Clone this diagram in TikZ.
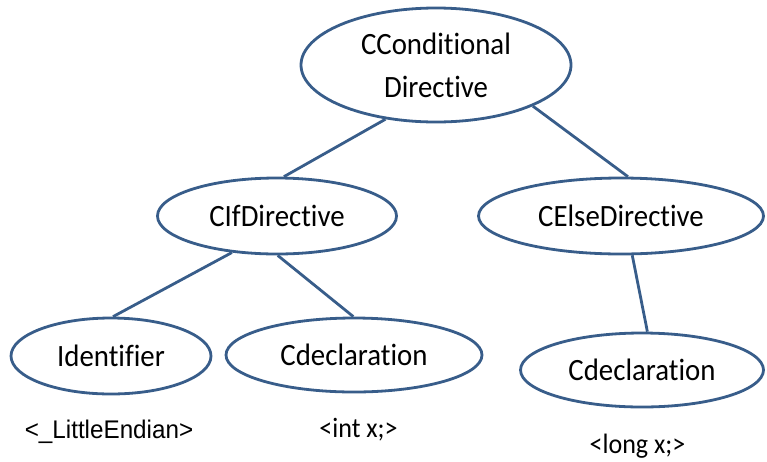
\documentclass[tikz,border=0pt]{standalone}
\usepackage{fontspec}
\setmainfont[Ligatures=NoCommon, FakeStretch=0.93]{Carlito}
\newfontfamily\labelsans[FakeStretch=0.95]{Liberation Sans}
\usetikzlibrary{shapes.geometric}
\definecolor{outline}{RGB}{56,93,138}

\tikzset{
  treenode/.style={ellipse, draw=outline, line width=2.8pt, fill=white,
    inner sep=0pt, align=center, text=black,
    font=\fontsize{31}{43}\selectfont},
  edge/.style={draw=outline, line width=2.8pt},
  leaflabel/.style={anchor=base, inner sep=0pt, text=black,
    font=\fontsize{28}{32}\selectfont}
}

\begin{document}
\begin{tikzpicture}[x=1pt, y=-1pt]
  \useasboundingbox (0,0) rectangle (767,461);

  % tree nodes
  \node[treenode, minimum width=270pt, minimum height=114pt] (cond) at (436,65)
    {CConditional\\Directive};
  \node[treenode, minimum width=239pt, minimum height=76pt] (ifdir) at (277,216)
    {CIfDirective};
  \node[treenode, minimum width=285pt, minimum height=76pt] (elsedir) at (621,216)
    {CElseDirective};
  \node[treenode, minimum width=200pt, minimum height=76pt] (ident) at (111,356)
    {Identifier};
  \node[treenode, minimum width=256pt, minimum height=74pt] (declA) at (354,355)
    {Cdeclaration};
  \node[treenode, minimum width=243pt, minimum height=74pt] (declB) at (642,370)
    {Cdeclaration};

  % edges
  \draw[edge] (cond.227) -- (ifdir.80);
  \draw[edge] (cond.337) -- (elsedir.80);
  \draw[edge] (ifdir.219) -- (ident.87);
  \draw[edge] (ifdir.271) -- (declA.91);
  \draw[edge] (elsedir.286) -- (declB.82);

  % token labels under the leaves
  \node[leaflabel, font=\labelsans\fontsize{25.5}{30}\selectfont] (lblA) at (109,438)
    {<\_LittleEndian>};
  \node[leaflabel] (lblB) at (358.5,437) {<int x;>};
  \node[leaflabel] (lblC) at (637.5,453) {<long x;>};
\end{tikzpicture}
\end{document}
